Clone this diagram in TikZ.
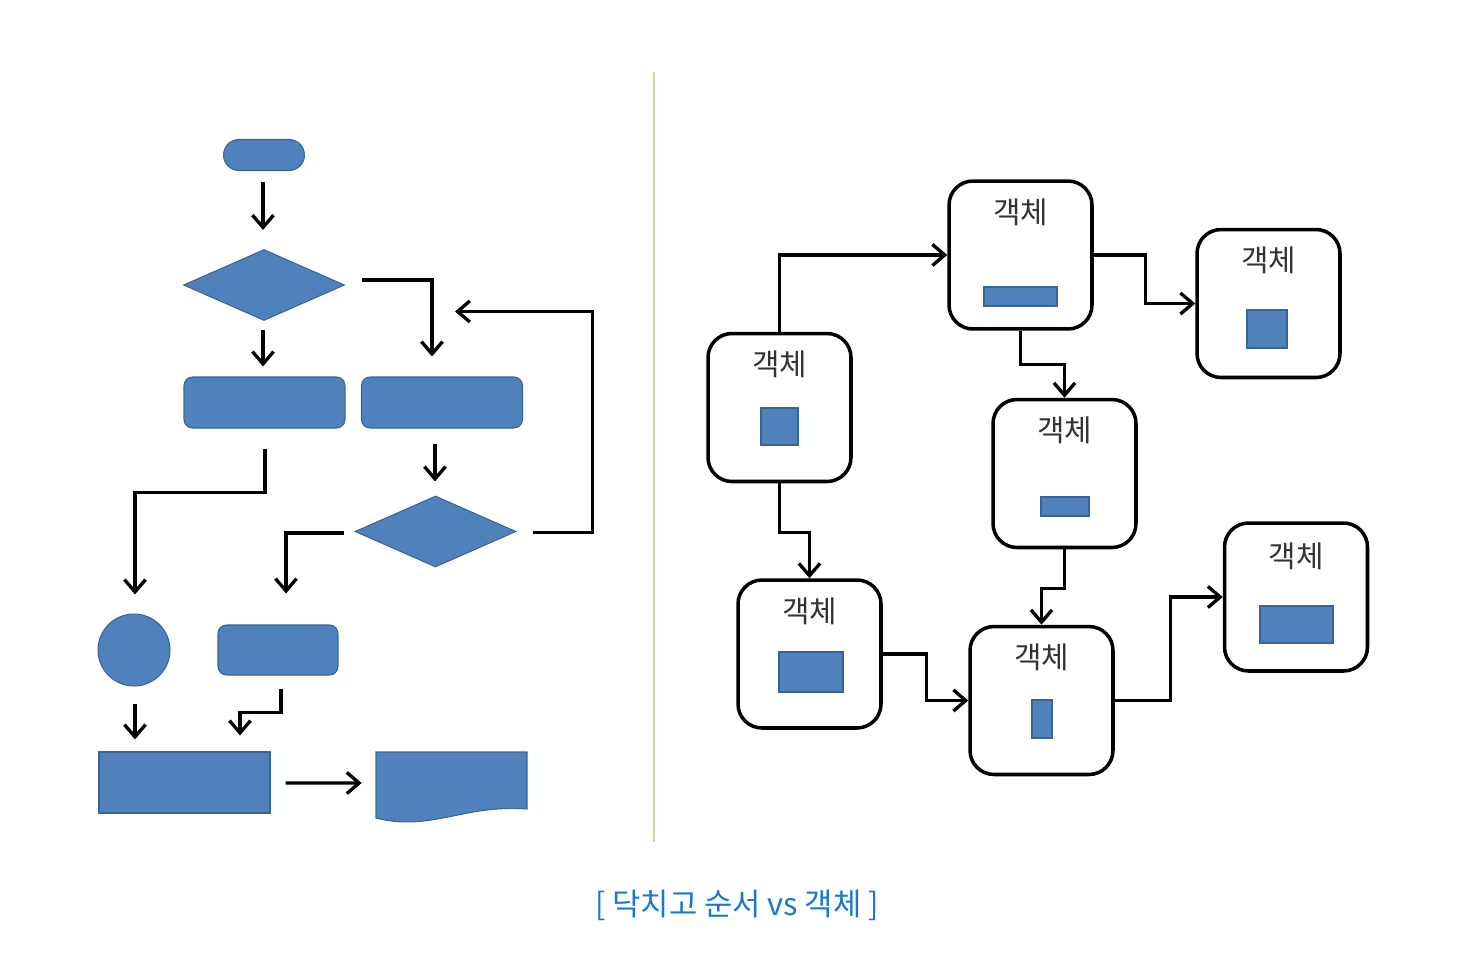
\documentclass[tikz,border=0pt]{standalone}
\usepackage{fontspec}
\newfontfamily\kr{Noto Sans CJK KR}
\usetikzlibrary{shapes.geometric,arrows.meta,calc}
\definecolor{fblue}{HTML}{4F81BD}
\definecolor{bblue}{HTML}{3A6496}
\definecolor{capblue}{RGB}{25,118,210}
\definecolor{divgreen}{HTML}{C9D9A6}
\tikzset{
  shp/.style={fill=fblue,draw=bblue,line width=0.6pt,inner sep=0pt},
  rbox/.style={shp,rectangle,rounded corners=0.17cm},
  dia/.style={shp,diamond,minimum width=3.22cm,minimum height=1.42cm},
  arr/.style={line width=1.9pt,-{Straight Barb[length=7pt,width=12pt,line width=1.9pt]}},
  obj/.style={draw=black,line width=2pt,rounded corners=0.48cm,minimum width=2.86cm,minimum height=2.96cm,inner sep=0pt,fill=white},
  inner/.style={shp,rectangle},
  lbl/.style={font=\kr\fontsize{17}{19}\selectfont,text=black!80,inner sep=0pt}
}
\begin{document}
\begin{tikzpicture}[x=0.02cm,y=-0.02cm]
\useasboundingbox (0,0) rectangle (1464,954);
% ---------- left: flowchart ----------
\node[shp,rectangle,rounded corners=0.31cm,minimum width=1.62cm,minimum height=0.62cm] (term) at (264,155) {};
\node[dia] (d1) at (264,285) {};
\node[rbox,minimum width=3.22cm,minimum height=1.02cm] (r1) at (264.5,402.5) {};
\node[rbox,minimum width=3.22cm,minimum height=1.02cm] (r2) at (442,402.5) {};
\node[dia] (d2) at (435.5,531.5) {};
\node[shp,circle,minimum size=1.44cm] (circ) at (134,650) {};
\node[rbox,minimum width=2.4cm,minimum height=1.0cm] (r3) at (278,650) {};
\node[shp,rectangle,minimum width=3.42cm,minimum height=1.22cm] (r4) at (184.5,782.5) {};
\node[inner sep=0pt,minimum width=3.02cm,minimum height=1.4cm] (doc) at (451.5,787) {};
\fill[fblue,draw=bblue,line width=0.6pt] (376,752) -- (527,752) -- (527,809)
   .. controls (465,804) and (430,832) .. (376,818) -- cycle;

\draw[arr] ([shift={(-1,11)}]term.south) -- ([shift={(-1,-19)}]d1.north);
\draw[arr] ([shift={(-1,9)}]d1.south) -- ([shift={(-1.5,-10)}]r1.north);
\draw[arr] ([shift={(17,-5)}]d1.east) -| ([shift={(-10,-20)}]r2.north);
\draw[arr] ([shift={(16,1)}]d2.east) -- ++(60,0) |- ([shift={(13,-65)}]r2.north);
\draw[arr] ([shift={(0.5,20)}]r1.south) -- ++(0,44) -| ([shift={(1,-19)}]circ.north);
\draw[arr] ([shift={(-7,15)}]r2.south) -- ([shift={(-0.5,-14)}]d2.north);
\draw[arr] ([shift={(-10,1.5)}]d2.west) -| ([shift={(8,-31)}]r3.north);
\draw[arr] ([shift={(1,17)}]circ.south) -- ([shift={(-49.5,-12)}]r4.north);
\draw[arr] ([shift={(3,13)}]r3.south) -- ++(0,24) -| ([shift={(55.5,-16)}]r4.north);
\draw[arr] ([shift={(15,0.5)}]r4.east) -- ([shift={(-14,-4)}]doc.west);

% ---------- divider ----------
\draw[divgreen,line width=1.2pt] (654,72) -- (654,842);

% ---------- right: objects ----------
\node[obj] (A) at (779.5,407.5) {};
\node[obj] (B) at (1020.5,255) {};
\node[obj] (C) at (1268.5,303.5) {};
\node[obj] (D) at (1064.5,473.5) {};
\node[obj] (E) at (809.5,654) {};
\node[obj] (F) at (1041.5,700.5) {};
\node[obj] (G) at (1296,597) {};

\node[lbl] (Al) at ([yshift=-33*0.02cm]A.north) {객체};
\node[lbl] (Bl) at ([yshift=-33*0.02cm]B.north) {객체};
\node[lbl] (Cl) at ([yshift=-33*0.02cm]C.north) {객체};
\node[lbl] (Dl) at ([yshift=-33*0.02cm]D.north) {객체};
\node[lbl] (El) at ([yshift=-33*0.02cm]E.north) {객체};
\node[lbl] (Fl) at ([yshift=-33*0.02cm]F.north) {객체};
\node[lbl] (Gl) at ([yshift=-35*0.02cm]G.north) {객체};

\node[inner,minimum width=0.74cm,minimum height=0.74cm] (Ai) at (779.5,426.5) {};
\node[inner,minimum width=1.46cm,minimum height=0.38cm] (Bi) at (1020.5,296.5) {};
\node[inner,minimum width=0.8cm,minimum height=0.76cm] (Ci) at (1267,329) {};
\node[inner,minimum width=0.96cm,minimum height=0.38cm] (Di) at (1065,506.5) {};
\node[inner,minimum width=1.28cm,minimum height=0.8cm] (Ei) at (811,672) {};
\node[inner,minimum width=0.4cm,minimum height=0.76cm] (Fi) at (1042,719) {};
\node[inner,minimum width=1.46cm,minimum height=0.74cm] (Gi) at (1296.5,624.5) {};

\draw[arr] (A.north) |- (B.west);
\draw[arr] (B.east) -- ++(52,0) |- (C.west);
\draw[arr] (B.south) -- ++(0,34) -| (D.north);
\draw[arr] (A.south) -- ++(0,49) -| (E.north);
\draw[arr] (D.south) -- ++(0,39) -| (F.north);
\draw[arr] (E.east) -- ++(44,0) |- (F.west);
\draw[arr] (F.east) -- ++(56,0) |- (G.west);

% ---------- caption ----------
\node[font=\kr\fontsize{17.5}{21}\selectfont,text=capblue,inner sep=0pt] (cap) at (737,905) {[ 닥치고 순서 vs 객체 ]};
\end{tikzpicture}
\end{document}
